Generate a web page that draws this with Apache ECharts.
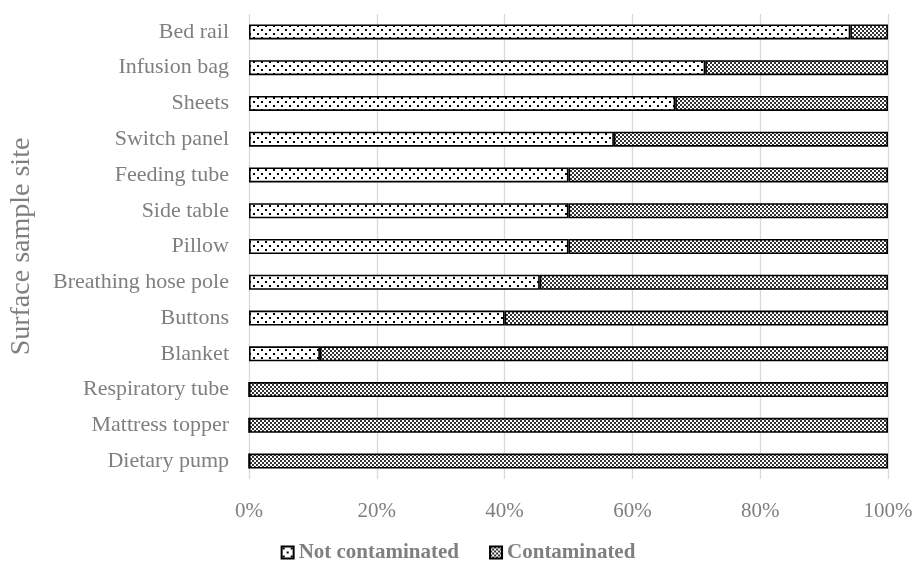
<!DOCTYPE html>
<html>
<head>
<meta charset="utf-8">
<script src="https://cdn.jsdelivr.net/npm/echarts@6/dist/echarts.min.js"></script>
<style>
  html, body { margin: 0; padding: 0; background: #fff; }
  #chart { width: 916px; height: 574px; }
</style>
</head>
<body>
<div id="chart"></div>
<script>
// Surface sample sites, listed top to bottom
const sites = [
  'Bed rail', 'Infusion bag', 'Sheets', 'Switch panel', 'Feeding tube',
  'Side table', 'Pillow', 'Breathing hose pole', 'Buttons', 'Blanket',
  'Respiratory tube', 'Mattress topper', 'Dietary pump'
];
// Share of samples per site (%)
const notContaminated = [94.1, 71.4, 66.7, 57.1, 50, 50, 50, 45.5, 40, 11.1, 0, 0, 0];
const contaminated    = [5.9, 28.6, 33.3, 42.9, 50, 50, 50, 54.5, 60, 88.9, 100, 100, 100];
const seriesNames = ['Not contaminated', 'Contaminated'];
const xTicks = [0, 20, 40, 60, 80, 100];

// Fill patterns for the two groups
function dotPattern() {
  const c = document.createElement('canvas');
  c.width = 8; c.height = 8;
  const g = c.getContext('2d');
  g.fillStyle = '#fff';
  g.fillRect(0, 0, 8, 8);
  g.fillStyle = '#000';
  g.fillRect(1, 1, 2, 2);
  g.fillRect(5, 5, 2, 2);
  return c;
}
function checkPattern() {
  const c = document.createElement('canvas');
  c.width = 4; c.height = 4;
  const g = c.getContext('2d');
  g.fillStyle = '#fff';
  g.fillRect(0, 0, 4, 4);
  g.fillStyle = '#333';
  g.fillRect(0, 0, 2, 2);
  g.fillRect(2, 2, 2, 2);
  return c;
}

const fonts = '"Liberation Serif", "DejaVu Serif", serif';
const grey = '#7f7f7f';

const chart = echarts.init(document.getElementById('chart'), null, { renderer: 'canvas' });
chart.setOption({
  animation: false,
  textStyle: { fontFamily: fonts },
  grid: { left: 249, right: 28, top: 14, bottom: 95, containLabel: false },
  xAxis: {
    type: 'value',
    min: 0, max: 100, interval: 20,
    axisLine: { show: false },
    axisTick: { show: false },
    splitLine: { show: true, lineStyle: { color: '#d9d9d9', width: 1.3 } },
    axisLabel: {
      margin: 22,
      color: grey, fontSize: 21, fontFamily: fonts,
      formatter: v => xTicks.includes(v) ? v + '%' : ''
    }
  },
  yAxis: {
    type: 'category',
    inverse: true,
    data: sites,
    name: 'Surface sample site',
    nameLocation: 'middle',
    nameGap: 213,
    nameTextStyle: { color: grey, fontSize: 28, fontFamily: fonts },
    axisLine: { show: false },
    axisTick: { show: false },
    axisLabel: { margin: 20, color: grey, fontSize: 22, fontFamily: fonts }
  },
  legend: {
    bottom: 6,
    left: 'center',
    itemWidth: 12,
    itemHeight: 12,
    itemGap: 30,
    icon: 'rect',
    textStyle: { color: grey, fontSize: 21, fontWeight: 'bold', fontFamily: fonts },
    data: seriesNames
  },
  series: [
    {
      name: seriesNames[0],
      type: 'bar',
      stack: 'share',
      barWidth: 15,
      data: notContaminated,
      itemStyle: {
        color: { image: dotPattern(), repeat: 'repeat' },
        borderColor: '#000', borderWidth: 1.6
      }
    },
    {
      name: seriesNames[1],
      type: 'bar',
      stack: 'share',
      barWidth: 15,
      data: contaminated,
      itemStyle: {
        color: { image: checkPattern(), repeat: 'repeat' },
        borderColor: '#000', borderWidth: 1.6
      }
    }
  ]
});
</script>
</body>
</html>
